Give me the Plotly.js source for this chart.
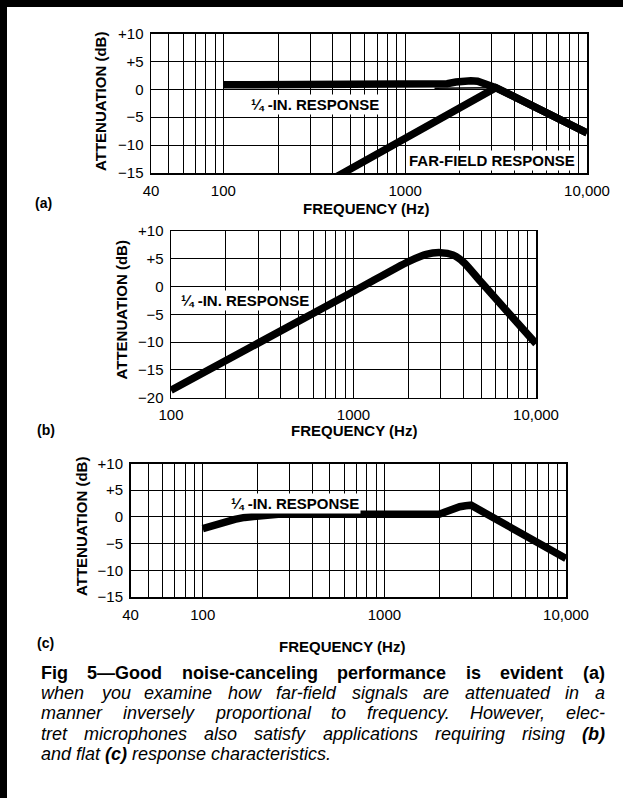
<!DOCTYPE html>
<html><head><meta charset="utf-8">
<script src="https://cdn.plot.ly/plotly-3.0.1.min.js"></script>
<style>html,body{margin:0;padding:0;background:#fff;}#chart{width:623px;height:798px;}</style>
</head><body><div id="chart"></div>
<script>
// ---------------- DATA ----------------
// Panel (a): 1/4-in. response and far-field response
const freqA_quarter = [100, 300, 1000, 1500, 1700, 1900, 2100, 2300, 2500, 2750, 2950, 3150, 10000];
const dbA_quarter   = [0.8, 0.8, 0.8, 0.8, 1.0, 1.3, 1.5, 1.55, 1.45, 1.1, 0.7, 0.3, -7.8];
const freqA_thin    = [1450, 2000, 2600, 3050];
const dbA_thin      = [0.2, 0.2, 0.25, 0.3];
const freqA_far     = [350, 3150, 10000];
const dbA_far       = [-17.1, 0.3, -7.8];
// Panel (b): rising 1/4-in. response
const freqB = [100, 1000, 2000, 2500, 3000, 3500, 4000, 5000, 10000];
const dbB   = [-18.7, -0.9, 4.5, 5.8, 6.1, 5.7, 4.4, 0.8, -10.3];
// Panel (c): flat 1/4-in. response
const freqC = [100, 110, 120, 135, 150, 170, 195, 225, 260, 2000, 2150, 2350, 2600, 2800, 3000, 10000];
const dbC   = [-2.2, -1.75, -1.35, -0.85, -0.45, -0.1, 0.2, 0.4, 0.5, 0.5, 0.95, 1.5, 1.9, 2.1, 2.2, -7.8];

// Tick values / labels
const xGridA = [40,50,60,70,80,90,100,200,300,400,500,600,700,800,900,1000,2000,3000,4000,5000,6000,7000,8000,9000,10000];
const xGridB = [100,200,300,400,500,600,700,800,900,1000,2000,3000,4000,5000,6000,7000,8000,9000,10000];
const xLabelMap = {40:'40', 100:'100', 1000:'1000', 10000:'10,000'};
const yTicksAC = [-15,-10,-5,0,5,10];
const yLabelsAC = ['\u221215','\u221210','\u22125','0','+5','+10'];
const yTicksB = [-20,-15,-10,-5,0,5,10];
const yLabelsB = ['\u221220','\u221215','\u221210','\u22125','0','+5','+10'];

const captionLines = [
  'Fig 5\u2014Good noise-canceling performance is evident (a)',
  'when you examine how far-field signals are attenuated in a',
  'manner inversely proportional to frequency. However, elec-',
  'tret microphones also satisfy applications requiring rising (b)',
  'and flat (c) response characteristics.'
];

// ---------------- LAYOUT HELPERS ----------------
const W = 623, H = 798;
const X = p => p / W, Y = p => 1 - p / H;
const FONT = '"Liberation Sans", Arial, Helvetica, sans-serif';
const boxA = {x0:151, x1:587, y0:33.5, y1:173};
const boxB = {x0:171, x1:536, y0:231, y1:397.5};
const boxC = {x0:130.5, x1:566, y0:463.5, y1:597};

function xaxis(box, vals, lo, anchor){
  return {type:'log', range:[Math.log10(lo), 4], domain:[X(box.x0), X(box.x1)], anchor:anchor,
    tickmode:'array', tickvals:vals, ticktext:vals.map(v => xLabelMap[v] || ''),
    showgrid:true, gridcolor:'#000', gridwidth:1, zeroline:false,
    showline:true, mirror:true, linecolor:'#000', linewidth:1.5, ticks:'',
    ticklabelstandoff:3,
    tickfont:{family:FONT, size:15, color:'#000'}, fixedrange:true};
}
function yaxis(box, lo, vals, text, anchor){
  return {range:[lo, 10], domain:[Y(box.y1), Y(box.y0)], anchor:anchor,
    tickmode:'array', tickvals:vals, ticktext:text,
    showgrid:true, gridcolor:'#000', gridwidth:1, zeroline:false,
    showline:true, mirror:true, linecolor:'#000', linewidth:1.5, ticks:'',
    ticklabelstandoff:3,
    tickfont:{family:FONT, size:15, color:'#000'}, fixedrange:true};
}

const thick = {color:'#000', width:7.5};
const data = [
  {x:freqA_quarter, y:dbA_quarter, xaxis:'x', yaxis:'y', mode:'lines', line:thick, hoverinfo:'skip'},
  {x:freqA_thin, y:dbA_thin, xaxis:'x', yaxis:'y', mode:'lines', line:{color:'#000', width:1.5}, hoverinfo:'skip'},
  {x:freqA_far, y:dbA_far, xaxis:'x', yaxis:'y', mode:'lines', line:thick, hoverinfo:'skip'},
  {x:freqB, y:dbB, xaxis:'x2', yaxis:'y2', mode:'lines', line:Object.assign({shape:'spline', smoothing:0.8}, thick), hoverinfo:'skip'},
  {x:freqC, y:dbC, xaxis:'x3', yaxis:'y3', mode:'lines', line:thick, hoverinfo:'skip'}
];

function ann(text, px, py, size, opts){
  return Object.assign({text:text, x:X(px), y:Y(py), xref:'paper', yref:'paper', showarrow:false,
    xanchor:'center', yanchor:'middle', font:{family:FONT, size:size, color:'#000'}}, opts || {});
}
const annotations = [
  ann('<b>ATTENUATION (dB)</b>', 100, 102, 15, {textangle:-90}),
  ann('<b>FREQUENCY (Hz)</b>', 366, 209, 15),
  ann('<b>(a)</b>', 43, 202.5, 14),
  ann('<b>\u00bc -IN. RESPONSE</b>', 315, 104, 15, {bgcolor:'#fff', borderpad:1}),
  ann('<b>FAR-FIELD RESPONSE</b>', 492.5, 161, 15, {bgcolor:'#fff', borderpad:1}),
  ann('<b>ATTENUATION (dB)</b>', 121, 310.5, 15, {textangle:-90}),
  ann('<b>FREQUENCY (Hz)</b>', 354, 430.5, 15),
  ann('<b>(b)</b>', 46, 430, 14),
  ann('<b>\u00bc -IN. RESPONSE</b>', 244.5, 300, 15, {bgcolor:'#fff', borderpad:1}),
  ann('<b>ATTENUATION (dB)</b>', 81, 527, 15, {textangle:-90}),
  ann('<b>FREQUENCY (Hz)</b>', 342, 646, 15),
  ann('<b>(c)</b>', 45, 643, 14),
  ann('<b>\u00bc -IN. RESPONSE</b>', 295, 503.3, 15, {bgcolor:'#fff', borderpad:1})
];

// Caption: justified word placement measured with canvas
const CAP_SIZE = 18, CAP_L = 41, CAP_R = 605;
const baselines = [679, 699.2, 719.4, 739.6, 759.8];
const ctx = document.createElement('canvas').getContext('2d');
function wordStyle(lineIdx, w){
  if (lineIdx === 0) return {css:'bold', open:'<b>', close:'</b>'};
  if (/^\([bc]\)$/.test(w)) return {css:'italic bold', open:'<b><i>', close:'</i></b>'};
  return {css:'italic', open:'<i>', close:'</i>'};
}
function measure(text, css){ ctx.font = css + ' ' + CAP_SIZE + 'px ' + FONT; return ctx.measureText(text).width; }
captionLines.forEach((line, li) => {
  const words = line.split(' ');
  const styles = words.map(w => wordStyle(li, w));
  const widths = words.map((w, i) => measure(w, styles[i].css));
  const total = widths.reduce((a, b) => a + b, 0);
  const justify = li < captionLines.length - 1;
  const space = measure(' ', styles[0].css);
  const gap = justify ? Math.max(3, (CAP_R - CAP_L - total) / (words.length - 1)) : space;
  let x = CAP_L;
  words.forEach((w, i) => {
    annotations.push({text: styles[i].open + w + styles[i].close, x:X(x), y:Y(baselines[li] - 6),
      xref:'paper', yref:'paper', showarrow:false, xanchor:'left', yanchor:'middle',
      borderpad:0, borderwidth:0, font:{family:FONT, size:CAP_SIZE, color:'#000'}});
    x += widths[i] + gap;
  });
});

const shapes = [
  {type:'rect', xref:'paper', yref:'paper', x0:0, x1:1, y0:Y(7), y1:Y(0), fillcolor:'#000', line:{width:0}},
  {type:'rect', xref:'paper', yref:'paper', x0:0, x1:X(7), y0:0, y1:1, fillcolor:'#000', line:{width:0}}
];

const layout = {
  width:W, height:H, margin:{l:0, r:0, t:0, b:0}, paper_bgcolor:'#fff', plot_bgcolor:'#fff',
  showlegend:false, font:{family:FONT, color:'#000'},
  xaxis: xaxis(boxA, xGridA, 40, 'y'),
  yaxis: yaxis(boxA, -15, yTicksAC, yLabelsAC, 'x'),
  xaxis2: xaxis(boxB, xGridB, 100, 'y2'),
  yaxis2: yaxis(boxB, -20, yTicksB, yLabelsB, 'x2'),
  xaxis3: xaxis(boxC, xGridA, 40, 'y3'),
  yaxis3: yaxis(boxC, -15, yTicksAC, yLabelsAC, 'x3'),
  annotations: annotations, shapes: shapes
};
Plotly.newPlot('chart', data, layout, {staticPlot:true, displayModeBar:false});
</script></body></html>
